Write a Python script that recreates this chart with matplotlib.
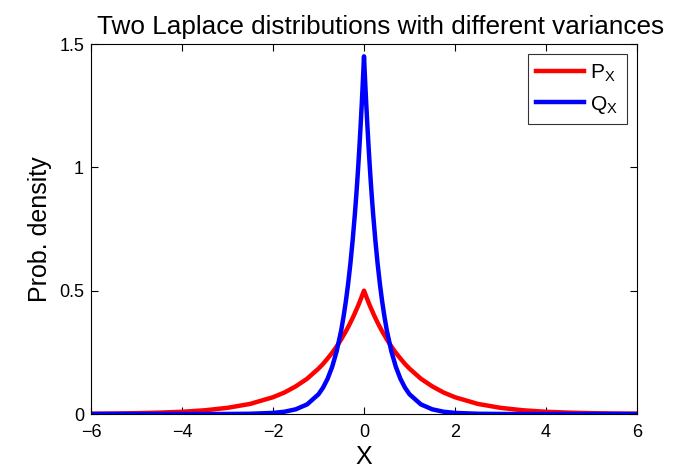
import matplotlib
matplotlib.use("Agg")
import matplotlib.pyplot as plt

plt.rcParams['font.family'] = ['Liberation Sans', 'DejaVu Sans']

# Half-curve samples (x >= 0); curves are symmetric
x_half = [0, 0.025, 0.05, 0.075, 0.1, 0.125, 0.15, 0.175, 0.2, 0.25, 0.3, 0.35,
          0.4, 0.45, 0.5, 0.6, 0.7, 0.8, 0.9, 1.0, 1.25, 1.5, 1.75, 2.0, 2.5,
          3.0, 3.5, 4.0, 4.5, 5.0, 5.5, 6.0]
p_half = [0.5, 0.488, 0.476, 0.464, 0.452, 0.441, 0.430, 0.420, 0.409, 0.389,
          0.370, 0.352, 0.335, 0.319, 0.303, 0.274, 0.248, 0.225, 0.203, 0.184,
          0.143, 0.112, 0.087, 0.068, 0.041, 0.025, 0.015, 0.009, 0.0056,
          0.0034, 0.002, 0.0012]
q_half = [1.45, 1.349, 1.254, 1.167, 1.085, 1.009, 0.938, 0.873, 0.812, 0.703,
          0.608, 0.526, 0.455, 0.394, 0.340, 0.255, 0.191, 0.143, 0.107, 0.080,
          0.039, 0.019, 0.0091, 0.0044, 0.001, 0.0002, 0.0, 0.0, 0.0, 0.0,
          0.0, 0.0]

x_ticks = [-6, -4, -2, 0, 2, 4, 6]
y_ticks = [0, 0.5, 1, 1.5]
y_tick_labels = ['0', '0.5', '1', '1.5']

# mirror to full curves
x_full = [-v for v in x_half[::-1]] + x_half[1:]
p_full = p_half[::-1] + p_half[1:]
q_full = q_half[::-1] + q_half[1:]

fig = plt.figure(figsize=(6.74, 4.69), dpi=100)
ax = fig.add_axes([91/674, 55/469, 546/674, 370/469])

ax.plot(x_full, p_full, color='#ff0000', lw=3.2, label='P$_\\mathregular{X}$',
        solid_joinstyle='round')
ax.plot(x_full, q_full, color='#0000ff', lw=3.2, label='Q$_\\mathregular{X}$',
        solid_joinstyle='round')

ax.set_xlim(-6, 6)
ax.set_ylim(0, 1.5)
ax.set_xticks(x_ticks)
ax.set_xticklabels(['\u2212' + str(-t) if t < 0 else str(t) for t in x_ticks])
ax.set_yticks(y_ticks)
ax.set_yticklabels(y_tick_labels)
ax.tick_params(direction='in', top=True, right=True, length=5, width=0.8,
               labelsize=13)
ax.tick_params(axis='x', pad=7)
ax.tick_params(axis='y', pad=5)
for s in ax.spines.values():
    s.set_linewidth(0.8)

ax.set_xlabel('X', fontsize=18, labelpad=3)
ax.set_ylabel('Prob. density', fontsize=18, labelpad=5)
ax.set_title('Two Laplace distributions with different variances', fontsize=18.8,
             pad=7, x=0.531)

leg = ax.legend(loc='upper right', fontsize=15, frameon=True, fancybox=False,
                edgecolor='black', handlelength=2.3, borderaxespad=0.5,
                handletextpad=0.3, labelspacing=0.45, borderpad=0.4)
leg.get_frame().set_linewidth(0.8)

fig.savefig('out.png', dpi=100)
